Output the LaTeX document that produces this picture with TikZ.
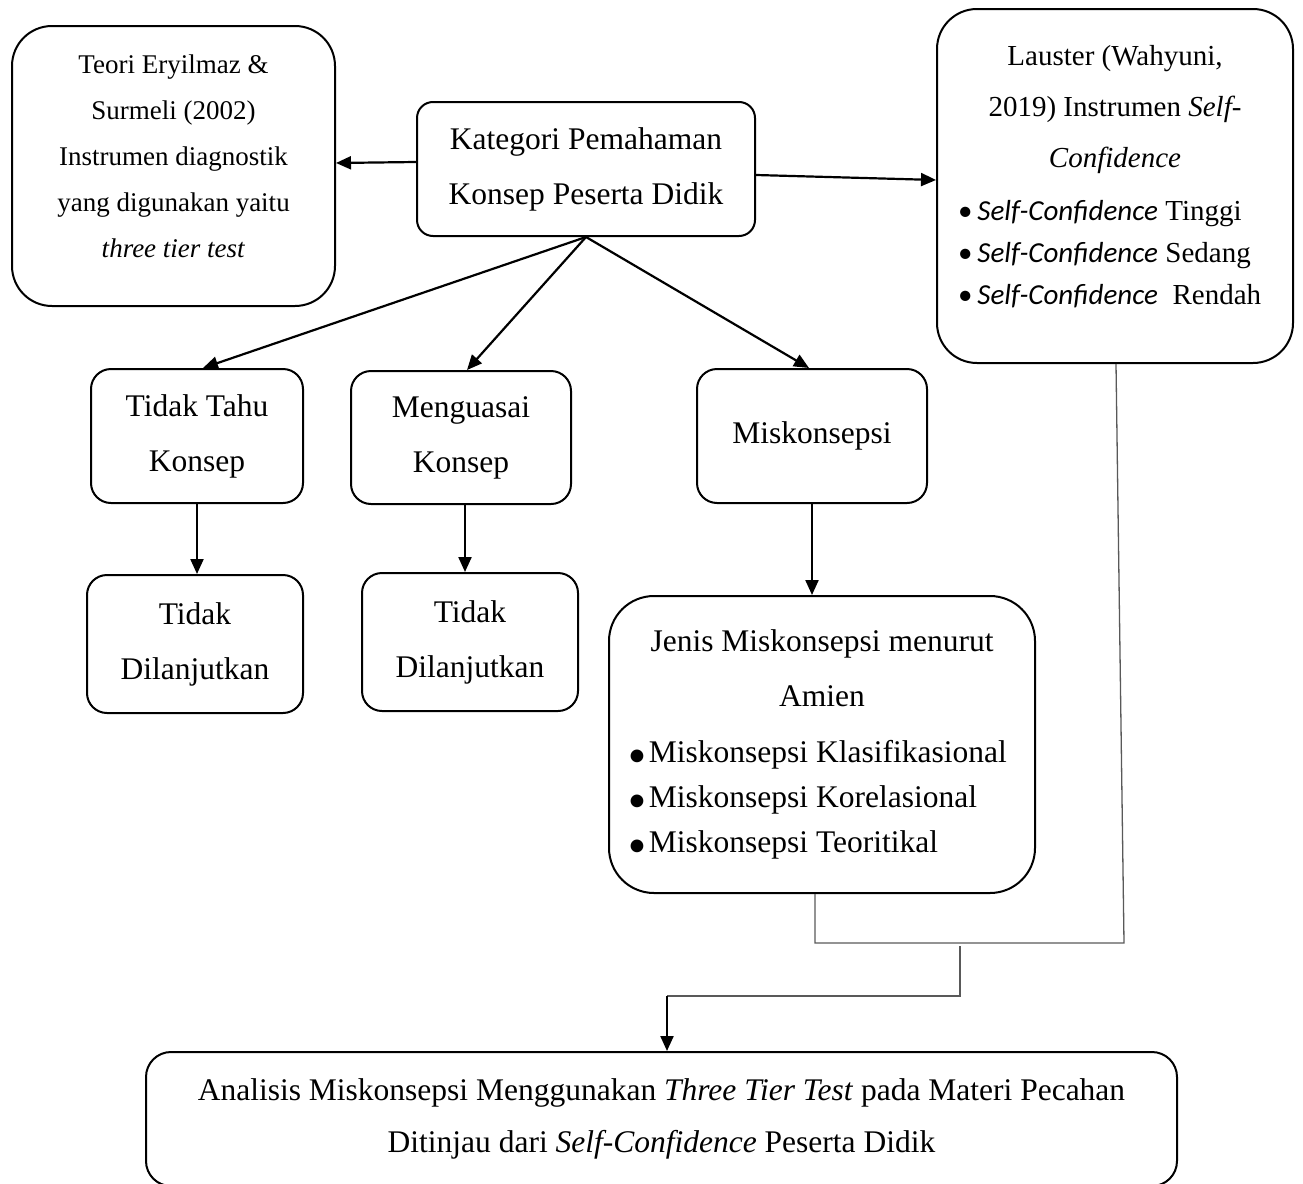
\documentclass[tikz,border=0pt]{standalone}
\usepackage{fontspec}
\setmainfont{Liberation Serif}
\newfontfamily\carl{Carlito}
\usetikzlibrary{arrows.meta}
\newcommand\bigbul{\raisebox{-3.5pt}{\carl\fontsize{36}{36}\selectfont\textbullet}}
\tikzset{
  box/.style={draw, line width=2pt, rounded corners=#1, align=center, inner sep=0pt,
    font=\fontsize{31.5}{55}\selectfont},
  box/.default=18pt,
  conn/.style={line width=2.2pt, -{Triangle[length=15pt,width=13pt]}},
  thinline/.style={draw=black!65, line width=1.3pt},
}
\begin{document}
\begin{tikzpicture}[x=1pt,y=-1pt]
\useasboundingbox (0,0) rectangle (1303,1183);
% boxes
\node[box=40pt, minimum width=323pt, minimum height=280pt, font=\fontsize{27}{46}\selectfont]
  (teori) at (173.5,166) {Teori Eryilmaz \&\\ Surmeli (2002)\\ Instrumen diagnostik\\ yang digunakan yaitu\\ \textit{three tier test}\\[-26pt]\mbox{}};
\node[box=16pt, minimum width=338pt, minimum height=134pt]
  (kat) at (586,169) {Kategori Pemahaman\\ Konsep Peserta Didik};
\node[box=40pt, minimum width=356pt, minimum height=354pt, font=\fontsize{29}{51}\selectfont]
  (lau) at (1115,186) {Lauster (Wahyuni,\\ 2019) Instrumen \textit{Self-}\\ \textit{Confidence}\\[2pt]
  \makebox[314pt][l]{{\carl\textbullet}\hspace{5pt}{\carl\itshape Self-Confidence} Tinggi}\\[-9pt]
  \makebox[314pt][l]{{\carl\textbullet}\hspace{5pt}{\carl\itshape Self-Confidence} Sedang}\\[-9pt]
  \makebox[314pt][l]{{\carl\textbullet}\hspace{5pt}{\carl\itshape Self-Confidence}\ \ Rendah}\\[-29pt]\mbox{}};
\node[box=20pt, minimum width=212pt, minimum height=134pt]
  (ttk) at (197,436) {Tidak Tahu\\ Konsep};
\node[box=20pt, minimum width=220pt, minimum height=133pt]
  (mk) at (461,437.5) {Menguasai\\ Konsep};
\node[box=20pt, minimum width=230pt, minimum height=134pt]
  (misk) at (812,436) {Miskonsepsi};
\node[box=20pt, minimum width=216pt, minimum height=138pt]
  (td1) at (195,644) {Tidak\\ Dilanjutkan};
\node[box=20pt, minimum width=216pt, minimum height=138pt]
  (td2) at (470,642) {Tidak\\ Dilanjutkan};
\node[box=45pt, minimum width=426pt, minimum height=297pt]
  (jen) at (822,744.5) {Jenis Miskonsepsi menurut\\ Amien\\[1pt]
  \makebox[388pt][l]{\bigbul\hspace{3pt}Miskonsepsi Klasifikasional}\\[-10pt]
  \makebox[388pt][l]{\bigbul\hspace{3pt}Miskonsepsi Korelasional}\\[-10pt]
  \makebox[388pt][l]{\bigbul\hspace{3pt}Miskonsepsi Teoritikal}};
\node[box=25pt, minimum width=1031pt, minimum height=134pt, font=\fontsize{31.5}{52}\selectfont]
  (ana) at (661.5,1119) {Analisis Miskonsepsi Menggunakan \textit{Three Tier Test} pada Materi Pecahan\\ Ditinjau dari \textit{Self-Confidence} Peserta Didik};
% arrows
\draw[conn] ([yshift=7pt]kat.west) -- ([yshift=3pt]teori.east);
\draw[conn] ([yshift=-6pt]kat.east) -- ([yshift=6pt]lau.west);
\draw[conn] (kat.south) -- ([xshift=6pt]ttk.north);
\draw[conn] (kat.south) -- ([xshift=6pt]mk.north);
\draw[conn] (kat.south) -- ([xshift=-3pt]misk.north);
\draw[conn] (ttk.south) -- (ttk.south |- td1.north);
\draw[conn] ([xshift=4pt]mk.south) -- ([xshift=4pt]mk.south |- td2.north);
\draw[conn] (misk.south) -- (misk.south |- jen.north);
% thin connectors
\coordinate (m1) at (1124,943);
\coordinate (m2) at (960,946);
\coordinate (m3) at (667,996);
\draw[thinline] ([xshift=-7pt]jen.south) |- (m1) -- ([xshift=1pt]lau.south);
\draw[thinline] (m2) |- (m3);
\draw[conn] (m3) -- ([xshift=5.5pt]ana.north);
\end{tikzpicture}
\end{document}
